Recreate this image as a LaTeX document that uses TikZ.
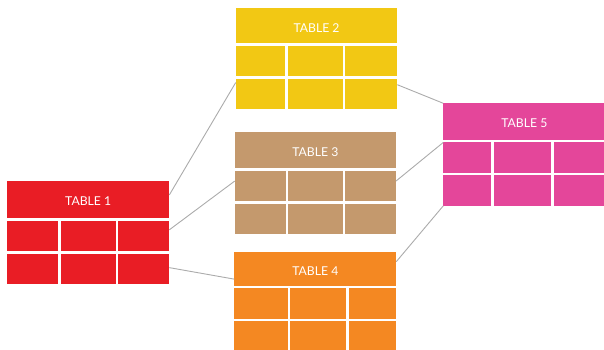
\documentclass[tikz,border=0pt]{standalone}
\usepackage{fontspec}
\setmainfont{Lato}
\usetikzlibrary{calc}

\definecolor{tred}{HTML}{E91D25}
\definecolor{tyellow}{HTML}{F2C814}
\definecolor{ttan}{HTML}{C4996D}
\definecolor{torange}{HTML}{F48822}
\definecolor{tpink}{HTML}{E4469A}
\definecolor{link}{HTML}{ABABAB}

\tikzset{
  cellbox/.style={draw=none, inner sep=0pt, outer sep=0pt, anchor=north west},
  labeltext/.style={text=white, font=\fontsize{12.2}{14}\selectfont, yshift=-2pt},
  linkline/.style={draw=link, line width=0.9pt},
}

% gap between cells and row height
\def\cg{2.4}
\def\rh{30.5}

% #1 name, #2 left, #3 top, #4 header height, #5 right edge of column 1 (relative),
% #6 right edge of column 2 (relative), #7 colour, #8 label, #9 total width
\newcommand\dbtable[9]{%
  \pgfmathsetmacro\rowA{#3+#4+\cg}%
  \pgfmathsetmacro\rowB{\rowA+\rh+\cg}%
  \pgfmathsetmacro\colB{#2+#5+\cg}%
  \pgfmathsetmacro\colC{#2+#6+\cg}%
  \pgfmathsetmacro\wA{#5}%
  \pgfmathsetmacro\wB{#6-#5-\cg}%
  \pgfmathsetmacro\wC{#9-#6-\cg}%
  \node[cellbox, fill=#7, minimum width=#9pt, minimum height=#4pt] (#1h) at (#2,#3) {};
  \node[labeltext] (#1l) at (#1h.center) {#8};
  \node[cellbox, fill=#7, minimum width=\wA pt, minimum height=\rh pt] (#1a) at (#2,\rowA) {};
  \node[cellbox, fill=#7, minimum width=\wB pt, minimum height=\rh pt] (#1b) at (\colB,\rowA) {};
  \node[cellbox, fill=#7, minimum width=\wC pt, minimum height=\rh pt] (#1c) at (\colC,\rowA) {};
  \node[cellbox, fill=#7, minimum width=\wA pt, minimum height=\rh pt] (#1d) at (#2,\rowB) {};
  \node[cellbox, fill=#7, minimum width=\wB pt, minimum height=\rh pt] (#1e) at (\colB,\rowB) {};
  \node[cellbox, fill=#7, minimum width=\wC pt, minimum height=\rh pt] (#1f) at (\colC,\rowB) {};
}

\begin{document}
\begin{tikzpicture}[x=1pt, y=-1pt]
  \useasboundingbox (0,0) rectangle (604,350);
  \clip (0,0) rectangle (604,350);

  \dbtable{t1}{7}{180.7}{37.6}{51.3}{108.7}{tred}{TABLE 1}{162.3}
  \dbtable{t2}{235.7}{8.3}{35}{49.6}{107}{tyellow}{TABLE 2}{161.6}
  \dbtable{t3}{234.7}{132.3}{36}{51}{108}{ttan}{TABLE 3}{161.3}
  \dbtable{t4}{234.3}{251.7}{34.3}{53.4}{112}{torange}{TABLE 4}{162}
  \dbtable{t5}{443.3}{103.3}{36.7}{48}{108}{tpink}{TABLE 5}{162}

  % relationship lines
  \draw[linkline] ($(t1h.north east)!0.38!(t1h.south east)$) -- ($(t2d.north west)!0.13!(t2d.south west)$);
  \draw[linkline] ($(t1c.north east)!0.3!(t1c.south east)$) -- ($(t3a.north west)!0.34!(t3a.south west)$);
  \draw[linkline] ($(t1f.north east)!0.46!(t1f.south east)$) -- ($(t4h.north west)!0.8!(t4h.south west)$);
  \draw[linkline] ($(t2f.north east)!0.2!(t2f.south east)$) -- (t5h.north west);
  \draw[linkline] ($(t3c.north east)!0.34!(t3c.south east)$) -- (t5a.north west);
  \draw[linkline] ($(t4h.north east)!0.29!(t4h.south east)$) -- (t5d.south west);
\end{tikzpicture}
\end{document}
